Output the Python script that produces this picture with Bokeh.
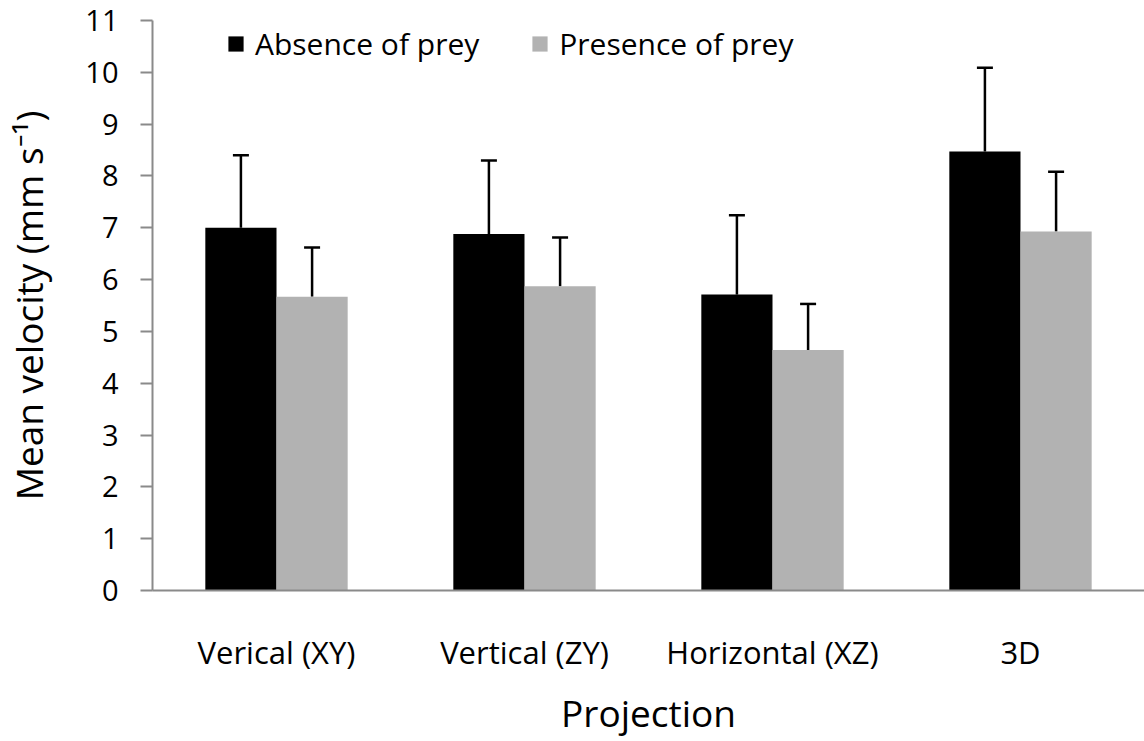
from bokeh.plotting import figure
from bokeh.models import (ColumnDataSource, FactorRange, Range1d, FixedTicker,
                          Whisker, TeeHead, Legend, LegendItem)
from bokeh.transform import dodge
from bokeh.embed import file_html
from bokeh.resources import INLINE

# ---- data ----
categories = ["Verical (XY)", "Vertical (ZY)", "Horizontal (XZ)", "3D"]
absence = [7.00, 6.88, 5.71, 8.47]
presence = [5.67, 5.87, 4.64, 6.93]
absence_err = [1.40, 1.42, 1.53, 1.62]
presence_err = [0.95, 0.94, 0.89, 1.15]
y_ticks = list(range(0, 12))
series_labels = ["Absence of prey", "Presence of prey"]

FONT = "Open Sans"
AXIS_GRAY = "#8a8a8a"

src = ColumnDataSource(dict(
    cats=categories,
    absence=absence,
    presence=presence,
    abs_up=[v + e for v, e in zip(absence, absence_err)],
    pre_up=[v + e for v, e in zip(presence, presence_err)],
))

p = figure(x_range=FactorRange(*categories, range_padding=0),
           y_range=Range1d(0, 11),
           width=1144, height=741,
           min_border_left=150, min_border_right=0,
           min_border_top=20, min_border_bottom=151,
           output_backend="svg", toolbar_location=None)

bw = 0.287
off = bw / 2
r1 = p.vbar(x=dodge("cats", -off, range=p.x_range), top="absence", width=bw,
            source=src, fill_color="black", line_color=None)
r2 = p.vbar(x=dodge("cats", off, range=p.x_range), top="presence", width=bw,
            source=src, fill_color="#b2b2b2", line_color=None)

for base_off, lo, up in [(-off, "absence", "abs_up"), (off, "presence", "pre_up")]:
    w = Whisker(base=dodge("cats", base_off, range=p.x_range), lower=lo, upper=up,
                source=src, line_color="black", line_width=2.5,
                upper_head=TeeHead(size=16, line_width=2.5, line_color="black"),
                lower_head=None)
    p.add_layout(w)

legend = Legend(items=[LegendItem(label=series_labels[0], renderers=[r1]),
                       LegendItem(label=series_labels[1], renderers=[r2])],
                orientation="horizontal", location=(74, 526),
                glyph_width=19, glyph_height=19, label_standoff=10, spacing=51,
                padding=0, margin=0, border_line_color=None,
                background_fill_alpha=0,
                label_text_font=FONT, label_text_font_size="30px",
                label_text_color="black")
p.add_layout(legend)

p.xgrid.visible = False
p.ygrid.visible = False
p.outline_line_color = None
p.background_fill_color = "white"
p.border_fill_color = "white"

# y axis
ya = p.yaxis[0]
ya.ticker = FixedTicker(ticks=y_ticks)
ya.minor_tick_line_color = None
ya.major_tick_in = 0
ya.major_tick_out = 12
ya.major_tick_line_color = AXIS_GRAY
ya.major_tick_line_width = 2
ya.axis_line_color = AXIS_GRAY
ya.axis_line_width = 2
ya.major_label_text_font = FONT
ya.major_label_text_font_size = "29px"
ya.major_label_text_color = "black"
ya.major_label_standoff = 22
ya.axis_label = "Mean velocity (mm s\u207b\u00b9)"
ya.axis_label_text_font = FONT
ya.axis_label_text_font_size = "37px"
ya.axis_label_text_font_style = "normal"
ya.axis_label_text_color = "black"
ya.axis_label_standoff = 28

# x axis
xa = p.xaxis[0]
xa.major_tick_line_color = None
xa.minor_tick_line_color = None
xa.major_tick_in = 0
xa.major_tick_out = 0
xa.axis_line_color = AXIS_GRAY
xa.axis_line_width = 2
xa.major_label_text_font = FONT
xa.major_label_text_font_size = "31px"
xa.major_label_text_color = "black"
xa.major_label_standoff = 40
xa.axis_label = "Projection"
xa.axis_label_text_font = FONT
xa.axis_label_text_font_size = "37px"
xa.axis_label_text_font_style = "normal"
xa.axis_label_text_color = "black"
xa.axis_label_standoff = 11

open("out.html", "w").write(file_html(p, INLINE))
